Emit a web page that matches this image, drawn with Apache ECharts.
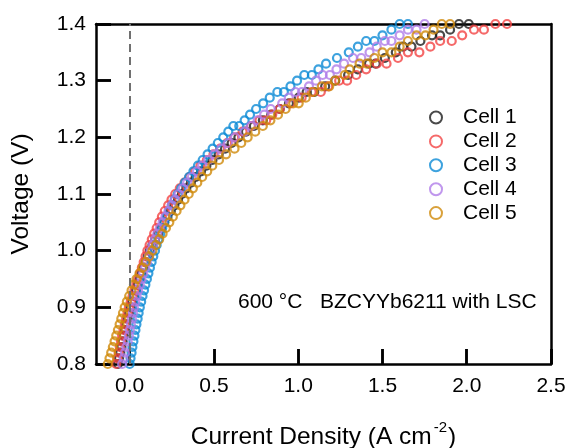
<!DOCTYPE html>
<html><head><meta charset="utf-8">
<script src="https://cdn.jsdelivr.net/npm/echarts@6/dist/echarts.min.js"></script>
<style>html,body{margin:0;padding:0;background:#fff}#c{width:573px;height:448px}</style>
</head><body><div id="c"></div>
<script>
const seriesNames = ['Cell 1', 'Cell 2', 'Cell 3', 'Cell 4', 'Cell 5'];
const seriesColors = ['#1c1c1c', '#f24444', '#0d8bd6', '#b07de8', '#d08a0a'];
// [current density (A cm-2), voltage (V)]
const cell1 = [[-0.070,0.80],[-0.063,0.81],[-0.056,0.82],[-0.049,0.83],[-0.042,0.84],[-0.035,0.85],[-0.028,0.86],[-0.020,0.87],[-0.012,0.88],[-0.004,0.89],[0.005,0.90],[0.015,0.91],[0.026,0.92],[0.037,0.93],[0.048,0.94],[0.060,0.95],[0.071,0.96],[0.083,0.97],[0.095,0.98],[0.107,0.99],[0.120,1.00],[0.135,1.01],[0.151,1.02],[0.168,1.03],[0.186,1.04],[0.205,1.05],[0.224,1.06],[0.244,1.07],[0.265,1.08],[0.287,1.09],[0.310,1.10],[0.336,1.11],[0.363,1.12],[0.392,1.13],[0.423,1.14],[0.455,1.15],[0.491,1.16],[0.528,1.17],[0.566,1.18],[0.605,1.19],[0.645,1.20],[0.690,1.21],[0.737,1.22],[0.790,1.23],[0.840,1.24],[0.890,1.25],[0.945,1.26],[1.003,1.27],[1.050,1.28],[1.095,1.28],[1.160,1.29],[1.220,1.30],[1.296,1.31],[1.354,1.32],[1.420,1.33],[1.460,1.33],[1.514,1.34],[1.579,1.35],[1.622,1.36],[1.672,1.36],[1.725,1.37],[1.794,1.38],[1.842,1.38],[1.901,1.39],[1.954,1.40],[2.012,1.40]];
const cell2 = [[-0.080,0.80],[-0.073,0.81],[-0.066,0.82],[-0.059,0.83],[-0.052,0.84],[-0.045,0.85],[-0.037,0.86],[-0.029,0.87],[-0.021,0.88],[-0.013,0.89],[-0.005,0.90],[0.006,0.91],[0.017,0.92],[0.028,0.93],[0.039,0.94],[0.050,0.95],[0.061,0.96],[0.072,0.97],[0.083,0.98],[0.094,0.99],[0.105,1.00],[0.118,1.01],[0.131,1.02],[0.145,1.03],[0.160,1.04],[0.175,1.05],[0.191,1.06],[0.208,1.07],[0.228,1.08],[0.248,1.09],[0.270,1.10],[0.297,1.11],[0.325,1.12],[0.355,1.13],[0.387,1.14],[0.420,1.15],[0.458,1.16],[0.497,1.17],[0.537,1.18],[0.578,1.19],[0.620,1.20],[0.670,1.21],[0.720,1.22],[0.770,1.23],[0.810,1.23],[0.846,1.24],[0.890,1.25],[0.955,1.26],[1.020,1.27],[1.080,1.28],[1.134,1.28],[1.178,1.29],[1.243,1.30],[1.290,1.30],[1.344,1.31],[1.403,1.32],[1.466,1.33],[1.524,1.33],[1.592,1.34],[1.651,1.35],[1.719,1.35],[1.784,1.36],[1.842,1.37],[1.911,1.37],[1.973,1.38],[2.043,1.39],[2.102,1.39],[2.170,1.40],[2.239,1.40]];
const cell3 = [[0.000,0.80],[0.005,0.81],[0.011,0.82],[0.016,0.83],[0.022,0.84],[0.028,0.85],[0.034,0.86],[0.040,0.87],[0.047,0.88],[0.053,0.89],[0.060,0.90],[0.068,0.91],[0.076,0.92],[0.085,0.93],[0.093,0.94],[0.102,0.95],[0.111,0.96],[0.120,0.97],[0.130,0.98],[0.140,0.99],[0.150,1.00],[0.160,1.01],[0.170,1.02],[0.181,1.03],[0.193,1.04],[0.205,1.05],[0.219,1.06],[0.234,1.07],[0.250,1.08],[0.267,1.09],[0.285,1.10],[0.306,1.11],[0.328,1.12],[0.352,1.13],[0.378,1.14],[0.405,1.15],[0.433,1.16],[0.462,1.17],[0.492,1.18],[0.523,1.19],[0.555,1.20],[0.585,1.21],[0.615,1.22],[0.650,1.22],[0.682,1.23],[0.714,1.24],[0.750,1.25],[0.792,1.26],[0.831,1.27],[0.876,1.28],[0.915,1.28],[0.954,1.29],[0.993,1.30],[1.036,1.31],[1.081,1.31],[1.120,1.32],[1.165,1.33],[1.230,1.34],[1.300,1.35],[1.354,1.36],[1.403,1.37],[1.452,1.37],[1.500,1.38],[1.553,1.39],[1.602,1.40],[1.651,1.40]];
const cell4 = [[-0.045,0.80],[-0.036,0.81],[-0.028,0.82],[-0.020,0.83],[-0.012,0.84],[-0.005,0.85],[0.001,0.86],[0.007,0.87],[0.013,0.88],[0.019,0.89],[0.025,0.90],[0.033,0.91],[0.041,0.92],[0.050,0.93],[0.060,0.94],[0.070,0.95],[0.080,0.96],[0.091,0.97],[0.102,0.98],[0.113,0.99],[0.125,1.00],[0.137,1.01],[0.150,1.02],[0.164,1.03],[0.179,1.04],[0.195,1.05],[0.212,1.06],[0.230,1.07],[0.249,1.08],[0.269,1.09],[0.290,1.10],[0.315,1.11],[0.341,1.12],[0.369,1.13],[0.399,1.14],[0.430,1.15],[0.465,1.16],[0.503,1.17],[0.543,1.18],[0.584,1.19],[0.625,1.20],[0.681,1.21],[0.720,1.22],[0.759,1.23],[0.798,1.24],[0.837,1.25],[0.905,1.26],[0.944,1.27],[0.983,1.28],[1.022,1.28],[1.064,1.29],[1.106,1.30],[1.145,1.31],[1.188,1.31],[1.227,1.32],[1.272,1.33],[1.325,1.34],[1.374,1.34],[1.423,1.35],[1.466,1.36],[1.514,1.37],[1.553,1.37],[1.602,1.38],[1.651,1.39],[1.702,1.39],[1.750,1.40]];
const cell5 = [[-0.130,0.80],[-0.120,0.81],[-0.110,0.82],[-0.100,0.83],[-0.090,0.84],[-0.080,0.85],[-0.070,0.86],[-0.060,0.87],[-0.050,0.88],[-0.040,0.89],[-0.030,0.90],[-0.017,0.91],[-0.003,0.92],[0.011,0.93],[0.025,0.94],[0.040,0.95],[0.058,0.96],[0.076,0.97],[0.095,0.98],[0.115,0.99],[0.135,1.00],[0.155,1.01],[0.175,1.02],[0.195,1.03],[0.215,1.04],[0.235,1.05],[0.256,1.06],[0.278,1.07],[0.301,1.08],[0.325,1.09],[0.350,1.10],[0.375,1.11],[0.401,1.12],[0.430,1.13],[0.460,1.14],[0.490,1.15],[0.530,1.16],[0.572,1.17],[0.622,1.18],[0.662,1.19],[0.700,1.20],[0.745,1.21],[0.790,1.22],[0.835,1.23],[0.880,1.24],[0.925,1.25],[0.970,1.26],[1.003,1.26],[1.045,1.27],[1.090,1.28],[1.140,1.29],[1.184,1.29],[1.218,1.30],[1.276,1.31],[1.305,1.32],[1.364,1.33],[1.407,1.33],[1.452,1.34],[1.500,1.35],[1.553,1.35],[1.602,1.36],[1.651,1.37],[1.702,1.38],[1.755,1.38],[1.803,1.39],[1.852,1.40],[1.901,1.40]];
const cellData = [cell1, cell2, cell3, cell4, cell5];
const xTickValues = [0, 0.5, 1.0, 1.5, 2.0, 2.5];
const xRange = [-0.2, 2.5];
const yRange = [0.8, 1.4];
const yInterval = 0.1;
const xInterval = 0.5;
const zeroLineX = 0;
const annotationText = '600 °C   BZCYYb6211 with LSC';

const FONT = 'Liberation Sans, Arial, sans-serif';
const G = {left: 96, right: 22, top: 24, bottom: 84};
const W = 573 - G.left - G.right;
const zeroPx = G.left + W * (zeroLineX - xRange[0]) / (xRange[1] - xRange[0]);
const TICK = 15;
const chart = echarts.init(document.getElementById('c'), null, {renderer: 'canvas'});

const series = cellData.map((d, i) => ({
  name: seriesNames[i],
  type: 'scatter',
  data: d,
  xAxisIndex: 0, yAxisIndex: 0,
  symbol: 'circle',
  symbolSize: 8,
  clip: false,
  z: 3,
  itemStyle: {color: 'rgba(0,0,0,0)', borderColor: seriesColors[i], borderWidth: 2.2},
  emphasis: {disabled: true}
}));
series[0].markLine = {
  silent: true, symbol: 'none', animation: false,
  label: {show: false},
  lineStyle: {color: '#707070', type: [8, 5], width: 2},
  data: [{xAxis: zeroLineX}]
};

const frameAxis = {
  type: 'value', gridIndex: 0, axisLine: {show: true, onZero: false, lineStyle: {color: '#000', width: 2.5}},
  axisTick: {show: false}, axisLabel: {show: false}, splitLine: {show: false}
};
const tickStrip = {
  type: 'value', axisLine: {show: false}, axisTick: {show: false}, axisLabel: {show: false},
  splitLine: {show: true, lineStyle: {color: '#000', width: 2.5, type: 'solid'}}
};

chart.setOption({
  animation: false,
  backgroundColor: '#fff',
  textStyle: {fontFamily: FONT},
  grid: [
    {left: G.left, right: G.right, top: G.top, bottom: G.bottom, outerBoundsMode: 'none'},
    {left: G.left, width: TICK, top: G.top, bottom: G.bottom, outerBoundsMode: 'none'},
    {left: zeroPx, right: G.right, bottom: G.bottom, height: TICK, outerBoundsMode: 'none'}
  ],
  legend: {
    orient: 'vertical', left: 424, top: 102,
    itemWidth: 12, itemHeight: 12, itemGap: 2.9,
    textStyle: {fontFamily: FONT, fontSize: 21, lineHeight: 20, color: '#000', padding: [0, 0, 0, 16]},
    data: seriesNames
  },
  xAxis: [{
    type: 'value', gridIndex: 0, min: xRange[0], max: xRange[1],
    name: '{a|Current Density (A cm}{s|-2}{a|)}',
    nameLocation: 'middle', nameGap: 56,
    nameTextStyle: {rich: {
      a: {fontFamily: FONT, fontSize: 24.5, color: '#000', verticalAlign: 'bottom', lineHeight: 30},
      s: {fontFamily: FONT, fontSize: 15, color: '#000', verticalAlign: 'top', lineHeight: 15, padding: [0, 1, 0, 2]}
    }},
    splitLine: {show: false},
    axisLine: {show: true, onZero: false, lineStyle: {color: '#000', width: 2.5}},
    axisTick: {show: true, inside: true, length: TICK, customValues: xTickValues, lineStyle: {color: '#000', width: 2.5}},
    axisLabel: {customValues: xTickValues, fontFamily: FONT, fontSize: 21, color: '#000', margin: 12, formatter: v => v.toFixed(1)}
  },
  Object.assign({position: 'top', min: xRange[0], max: xRange[1]}, frameAxis),
  {type: 'value', gridIndex: 1, show: false, min: 0, max: 1},
  Object.assign({gridIndex: 2, min: zeroLineX, max: xRange[1], interval: xInterval}, tickStrip)],
  yAxis: [{
    type: 'value', gridIndex: 0, min: yRange[0], max: yRange[1], interval: yInterval,
    name: 'Voltage (V)', nameLocation: 'middle', nameGap: 62,
    nameTextStyle: {fontFamily: FONT, fontSize: 24.5, color: '#000'},
    splitLine: {show: false},
    axisLine: {show: true, onZero: false, lineStyle: {color: '#000', width: 2.5}},
    axisTick: {show: true, inside: true, length: TICK, lineStyle: {color: '#000', width: 2.5}},
    axisLabel: {fontFamily: FONT, fontSize: 21, color: '#000', margin: 10, formatter: v => v.toFixed(1)}
  },
  Object.assign({position: 'right', min: yRange[0], max: yRange[1]}, frameAxis),
  Object.assign({gridIndex: 1, min: yRange[0], max: yRange[1], interval: yInterval}, tickStrip),
  {type: 'value', gridIndex: 2, show: false, min: 0, max: 1}],
  graphic: [{
    type: 'text', left: 238, top: 292, silent: true,
    style: {text: annotationText, fontFamily: FONT, fontSize: 21, fill: '#000'}
  }],
  series: series
});
</script></body></html>
